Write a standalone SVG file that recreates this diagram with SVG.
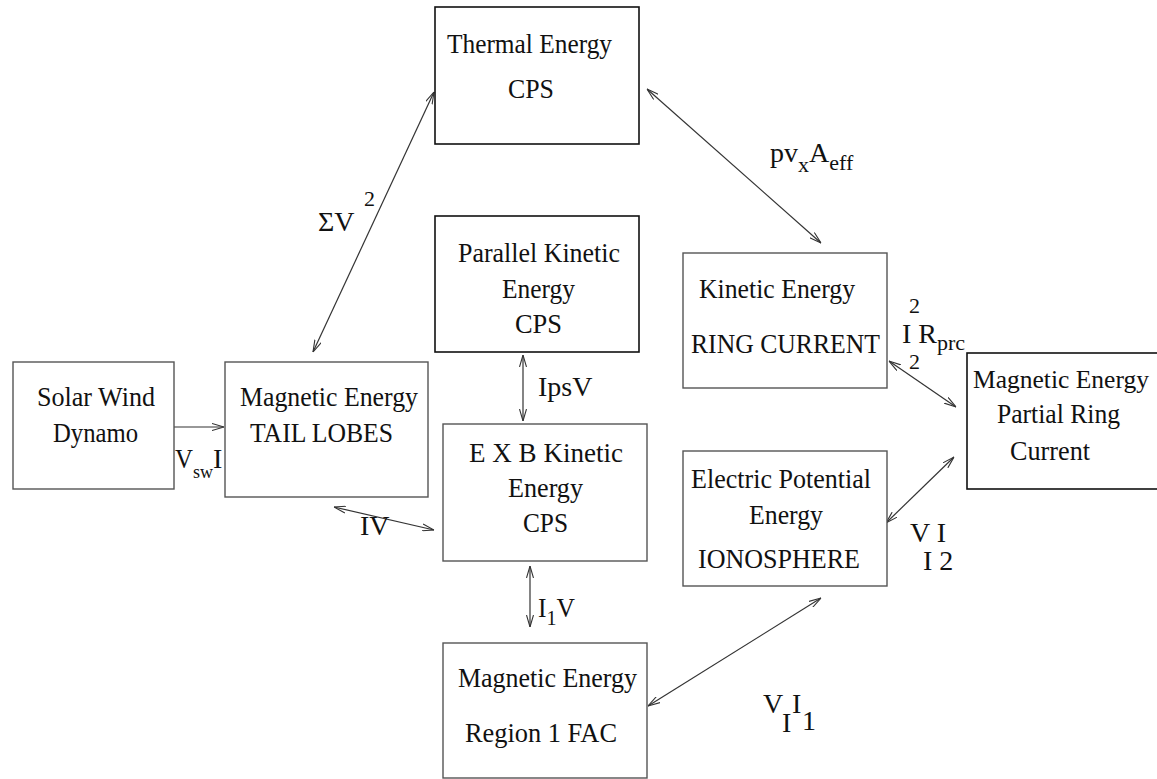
<svg xmlns="http://www.w3.org/2000/svg" width="1157" height="779" viewBox="0 0 1157 779">
<style>
.box{fill:#fff;stroke:#555;stroke-width:1.4}
.dark{stroke:#111;stroke-width:1.6}
.t{font-family:"Liberation Serif","Times New Roman",serif;font-size:28px;fill:#111}
.lab{font-family:"Liberation Serif","Times New Roman",serif;font-size:28px;fill:#111}
.sub{font-size:22px}
.c{fill:none;stroke:#333;stroke-width:1.2}
</style>
<defs>
<marker id="ah" viewBox="0 0 12 8" refX="12" refY="4" markerWidth="12" markerHeight="8" markerUnits="userSpaceOnUse" orient="auto-start-reverse">
<path d="M0,0.5 L12,4 L0,7.5" fill="none" stroke="#333" stroke-width="1.1"/>
</marker>
</defs>
<rect width="1157" height="779" fill="#fff"/>

<g id="connectors">
<line class="c" x1="434" y1="92" x2="313" y2="352" marker-start="url(#ah)" marker-end="url(#ah)"/>
<line class="c" x1="647" y1="89" x2="821" y2="243" marker-start="url(#ah)" marker-end="url(#ah)"/>
<line class="c" x1="174" y1="427" x2="224" y2="427" marker-end="url(#ah)"/>
<line class="c" x1="523" y1="355" x2="523" y2="421" marker-start="url(#ah)" marker-end="url(#ah)"/>
<line class="c" x1="334" y1="507" x2="434" y2="530" marker-start="url(#ah)" marker-end="url(#ah)"/>
<line class="c" x1="530" y1="566" x2="530" y2="627" marker-start="url(#ah)" marker-end="url(#ah)"/>
<line class="c" x1="648" y1="706" x2="821" y2="598" marker-start="url(#ah)" marker-end="url(#ah)"/>
<line class="c" x1="889" y1="361" x2="956" y2="407" marker-start="url(#ah)" marker-end="url(#ah)"/>
<line class="c" x1="886" y1="523" x2="954" y2="457" marker-start="url(#ah)" marker-end="url(#ah)"/>
</g>

<g id="thermal">
<rect class="box dark" x="435" y="7" width="204" height="137"/>
<text class="t" x="447" y="53" textLength="165" lengthAdjust="spacingAndGlyphs">Thermal Energy</text>
<text class="t" x="508" y="98" textLength="46" lengthAdjust="spacingAndGlyphs">CPS</text>
</g>

<g id="parallel">
<rect class="box dark" x="435" y="216" width="204" height="136"/>
<text class="t" x="458" y="262" textLength="162" lengthAdjust="spacingAndGlyphs">Parallel Kinetic</text>
<text class="t" x="502" y="298" textLength="73" lengthAdjust="spacingAndGlyphs">Energy</text>
<text class="t" x="515" y="333" textLength="47" lengthAdjust="spacingAndGlyphs">CPS</text>
</g>

<g id="exb">
<rect class="box" x="443" y="424" width="204" height="137"/>
<text class="t" x="469" y="462" textLength="154" lengthAdjust="spacingAndGlyphs">E X B Kinetic</text>
<text class="t" x="508" y="497" textLength="75" lengthAdjust="spacingAndGlyphs">Energy</text>
<text class="t" x="523" y="532" textLength="45" lengthAdjust="spacingAndGlyphs">CPS</text>
</g>

<g id="region1">
<rect class="box" x="443" y="643" width="204" height="135"/>
<text class="t" x="458" y="687" textLength="179" lengthAdjust="spacingAndGlyphs">Magnetic Energy</text>
<text class="t" x="465" y="742" textLength="152" lengthAdjust="spacingAndGlyphs">Region 1 FAC</text>
</g>

<g id="solarwind">
<rect class="box" x="13" y="362" width="161" height="127"/>
<text class="t" x="37" y="406" textLength="118" lengthAdjust="spacingAndGlyphs">Solar Wind</text>
<text class="t" x="53" y="442" textLength="85" lengthAdjust="spacingAndGlyphs">Dynamo</text>
</g>

<g id="taillobes">
<rect class="box" x="225" y="362" width="203" height="135"/>
<text class="t" x="240" y="406" textLength="178" lengthAdjust="spacingAndGlyphs">Magnetic Energy</text>
<text class="t" x="250" y="442" textLength="143" lengthAdjust="spacingAndGlyphs">TAIL LOBES</text>
</g>

<g id="ringcurrent">
<rect class="box" x="683" y="253" width="204" height="135"/>
<text class="t" x="699" y="298" textLength="156" lengthAdjust="spacingAndGlyphs">Kinetic Energy</text>
<text class="t" x="691" y="353" textLength="189" lengthAdjust="spacingAndGlyphs">RING CURRENT</text>
</g>

<g id="partialring">
<rect class="box dark" x="967" y="353" width="195" height="136"/>
<text class="t" x="973" y="388" style="font-size:26px" textLength="176" lengthAdjust="spacingAndGlyphs">Magnetic Energy</text>
<text class="t" x="997" y="423" textLength="123" lengthAdjust="spacingAndGlyphs">Partial Ring</text>
<text class="t" x="1010" y="460" textLength="80" lengthAdjust="spacingAndGlyphs">Current</text>
</g>

<g id="ionosphere">
<rect class="box" x="683" y="451" width="204" height="135"/>
<text class="t" x="691" y="488" textLength="180" lengthAdjust="spacingAndGlyphs">Electric Potential</text>
<text class="t" x="749" y="524" textLength="74" lengthAdjust="spacingAndGlyphs">Energy</text>
<text class="t" x="698" y="568" textLength="162" lengthAdjust="spacingAndGlyphs">IONOSPHERE</text>
</g>

<g id="labels">
<text class="lab" x="770" y="162">pv<tspan class="sub" dy="10">x</tspan><tspan dy="-10">A</tspan><tspan class="sub" dy="8">eff</tspan></text>
<text class="lab" x="318" y="231">ΣV</text>
<text class="lab sub" x="364" y="206">2</text>
<text class="lab" x="538" y="396">IpsV</text>
<text class="lab" x="175" y="468" textLength="18" lengthAdjust="spacingAndGlyphs">V</text>
<text class="lab" x="193" y="478" style="font-size:18px">sw</text>
<text class="lab" x="213" y="468">I</text>
<text class="lab" x="360" y="535">IV</text>
<text class="lab" x="538" y="617" textLength="37" lengthAdjust="spacingAndGlyphs">I<tspan class="sub" dy="8">1</tspan><tspan dy="-8">V</tspan></text>
<text class="lab sub" x="909" y="313">2</text>
<text class="lab" x="902" y="343">I R<tspan class="sub" dy="7">prc</tspan></text>
<text class="lab sub" x="909" y="369">2</text>
<text class="lab" x="910" y="542">V I</text>
<text class="lab" x="923" y="570">I 2</text>
<text class="lab" x="763" y="713">V</text>
<text class="lab" x="782" y="732">I</text>
<text class="lab" x="792" y="713">I</text>
<text class="lab" x="802" y="730">1</text>
</g>
</svg>
